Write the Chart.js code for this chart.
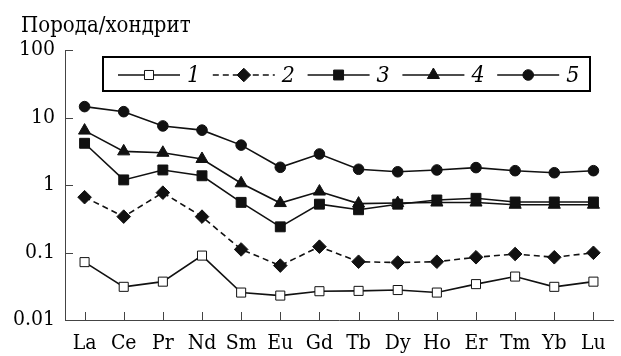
<!DOCTYPE html>
<html>
<head>
<meta charset="utf-8">
<script src="https://cdn.jsdelivr.net/npm/chart.js@4"></script>
<style>
  html, body { margin: 0; padding: 0; background: #fff; }
  #wrap { width: 621px; height: 356px; position: relative; }
</style>
</head>
<body>
<div id="wrap"><canvas id="ree"></canvas></div>
<script>
  const elements = ["La", "Ce", "Pr", "Nd", "Sm", "Eu", "Gd", "Tb", "Dy", "Ho", "Er", "Tm", "Yb", "Lu"];
  const yTicks = [0.01, 0.1, 1, 10, 100];
  const seriesNames = ["1", "2", "3", "4", "5"];

  const s1 = [0.072, 0.031, 0.037, 0.090, 0.0255, 0.023, 0.0267, 0.027, 0.0278, 0.0255, 0.034, 0.044, 0.031, 0.037];
  const s2 = [0.66, 0.34, 0.77, 0.34, 0.111, 0.064, 0.122, 0.073, 0.071, 0.073, 0.085, 0.095, 0.085, 0.099];
  const s3 = [4.15, 1.19, 1.67, 1.37, 0.553, 0.24, 0.52, 0.43, 0.52, 0.60, 0.635, 0.56, 0.56, 0.56];
  const s4 = [6.4, 3.15, 3.0, 2.43, 1.06, 0.54, 0.80, 0.53, 0.54, 0.55, 0.55, 0.51, 0.51, 0.51];
  const s5 = [14.5, 12.2, 7.5, 6.5, 3.9, 1.83, 2.88, 1.71, 1.57, 1.67, 1.81, 1.63, 1.52, 1.63];

  const SERIF = "'DejaVu Serif Condensed', 'DejaVu Serif', serif";
  const INK = "#111";
  const AXIS = "#444";

  function style(pointStyle, radius, fill, dashed) {
    return {
      borderColor: INK,
      borderWidth: 1.6,
      borderDash: dashed ? [6, 4] : [],
      pointStyle,
      pointRadius: radius,
      pointBackgroundColor: fill,
      pointBorderColor: INK,
      pointBorderWidth: 1,
      tension: 0,
      fill: false,
    };
  }

  const datasets = [
    { label: seriesNames[0], data: s1, ...style("rect", 6.4, "#fff", false) },
    { label: seriesNames[1], data: s2, ...style("rectRot", 6.8, INK, true) },
    { label: seriesNames[2], data: s3, ...style("rect", 7, INK, false) },
    { label: seriesNames[3], data: s4, ...style("triangle", 7, INK, false) },
    { label: seriesNames[4], data: s5, ...style("circle", 5.3, INK, false) },
  ];

  // inward ticks on both axes, y title and the boxed legend
  const decor = {
    id: "decor",
    afterDraw(chart) {
      const { ctx, chartArea, scales } = chart;
      const x = scales.x, y = scales.y;
      ctx.save();
      ctx.strokeStyle = AXIS;
      ctx.lineWidth = 1;
      ctx.beginPath();
      yTicks.forEach((v) => {
        const py = Math.round(y.getPixelForValue(v)) + 0.5;
        ctx.moveTo(chartArea.left, py);
        ctx.lineTo(chartArea.left + 8, py);
      });
      elements.forEach((_, i) => {
        const px = Math.round(x.getPixelForValue(i)) + 0.5;
        ctx.moveTo(px, chartArea.bottom);
        ctx.lineTo(px, chartArea.bottom - 8);
      });
      ctx.stroke();

      ctx.fillStyle = "#000";
      ctx.font = `22px ${SERIF}`;
      ctx.textBaseline = "alphabetic";
      ctx.textAlign = "left";
      ctx.fillText("Порода/хондрит", 21, 32);

      // legend box
      ctx.lineWidth = 2;
      ctx.strokeStyle = "#000";
      ctx.strokeRect(103, 57, 487, 34);
      const ly = 75;
      chart.data.datasets.forEach((ds, i) => {
        const x0 = 118 + i * 94.8;
        const x1 = x0 + 62;
        ctx.save();
        ctx.strokeStyle = ds.borderColor;
        ctx.lineWidth = ds.borderWidth;
        ctx.setLineDash(ds.borderDash);
        ctx.beginPath();
        ctx.moveTo(x0, ly);
        ctx.lineTo(x1, ly);
        ctx.stroke();
        ctx.restore();
        ctx.save();
        ctx.fillStyle = ds.pointBackgroundColor;
        ctx.strokeStyle = ds.pointBorderColor;
        ctx.lineWidth = ds.pointBorderWidth;
        Chart.helpers.drawPoint(ctx, { pointStyle: ds.pointStyle, radius: ds.pointRadius, rotation: 0, borderWidth: 1 }, (x0 + x1) / 2, ly);
        ctx.restore();
        ctx.fillStyle = "#000";
        ctx.font = `italic 23px ${SERIF}`;
        ctx.textBaseline = "middle";
        ctx.fillText(ds.label, x1 + 7, ly + 1);
      });
      ctx.restore();
    },
  };

  new Chart(document.getElementById("ree"), {
    type: "line",
    data: { labels: elements, datasets },
    options: {
      responsive: true,
      maintainAspectRatio: false,
      animation: false,
      layout: { padding: { top: 50, right: 0, bottom: 0, left: 0 } },
      plugins: {
        legend: { display: false },
        tooltip: { enabled: false },
      },
      scales: {
        x: {
          type: "category",
          offset: true,
          grid: { display: false, drawTicks: false },
          border: { display: true, color: AXIS, width: 1 },
          ticks: {
            color: "#000",
            padding: 11,
            autoSkip: false,
            maxRotation: 0,
            font: { family: SERIF, size: 21 },
          },
          afterFit(scale) { scale.height = 36; },
        },
        y: {
          type: "logarithmic",
          min: yTicks[0],
          max: yTicks[yTicks.length - 1],
          grid: { display: false, drawTicks: false },
          border: { display: true, color: AXIS, width: 1 },
          afterBuildTicks(scale) {
            scale.ticks = yTicks.map((v) => ({ value: v, major: true }));
          },
          ticks: {
            color: "#000",
            padding: 10,
            font: { family: SERIF, size: 21 },
            callback: (v) => String(v),
          },
          afterFit(scale) { scale.width = 65; },
        },
      },
    },
    plugins: [decor],
  });
</script>
</body>
</html>
